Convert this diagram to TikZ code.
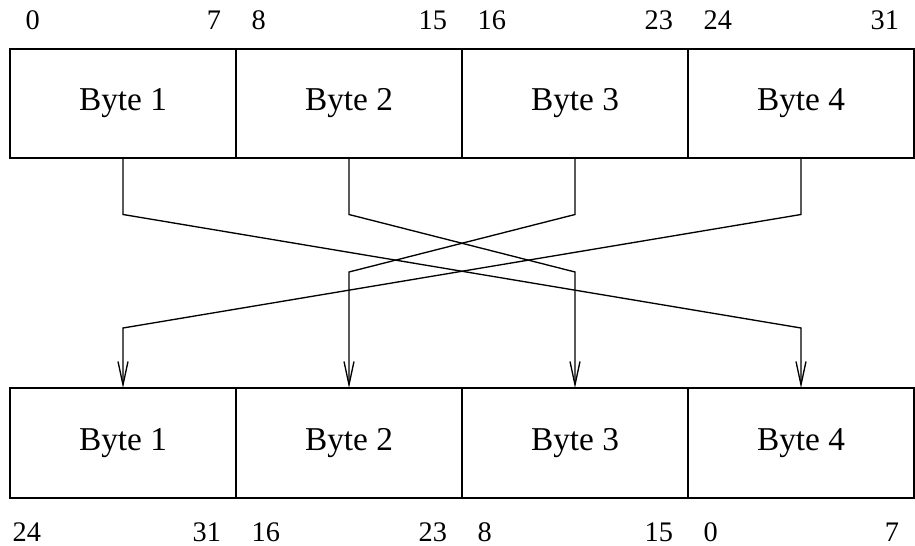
\documentclass[tikz,border=0pt]{standalone}
\usepackage{fontspec}
\setmainfont{Liberation Serif}
\usetikzlibrary{arrows.meta}

\tikzset{
  bytebox/.style={draw, line width=0.6pt, inner sep=0pt, outer sep=0pt,
    minimum width=67.8pt, minimum height=33pt, font=\fontsize{10}{12}\selectfont},
  bitnum/.style={inner sep=0pt, font=\fontsize{8.5}{10}\selectfont},
  swap/.style={line width=0.4pt, -{Straight Barb[length=7pt,width=3pt]}}
}

\begin{document}
\begin{tikzpicture}[x=0.3pt, y=-0.3pt]
    \useasboundingbox (0,0) rectangle (915,546);

    % bytes before and after the swap
    \foreach \i/\x in {1/123, 2/349, 3/575, 4/801} {
        \node[bytebox] (t\i) at (\x,103.5) {Byte \i};
        \node[bytebox] (b\i) at (\x,443) {Byte \i};
    }

    % bit numbers
    \foreach \i/\lo/\hi in {1/0/7, 2/8/15, 3/16/23, 4/24/31} {
        \node[bitnum, anchor=south west] (t\i lo) at ([xshift=4.5pt, yshift=5.4pt]t\i.north west) {\lo};
        \node[bitnum, anchor=south east] (t\i hi) at ([xshift=-4.3pt, yshift=5.4pt]t\i.north east) {\hi};
    }
    \foreach \i/\lo/\hi/\ins in {1/24/31/0.6, 2/16/23/4.5, 3/8/15/4.5, 4/0/7/4.5} {
        \node[bitnum, anchor=north west] (b\i lo) at ([xshift=\ins pt, yshift=-7.2pt]b\i.south west) {\lo};
        \node[bitnum, anchor=north east] (b\i hi) at ([xshift=-4.3pt, yshift=-7.2pt]b\i.south east) {\hi};
    }

    % connectors
    \foreach \s/\d/\lv in {1/4/60, 2/3/116, 3/2/116, 4/1/60}
        \draw[swap] (t\s.south) -- ++(0,56) -- ([yshift=\lv*0.3pt]b\d.north) -- (b\d.north);
\end{tikzpicture}
\end{document}
